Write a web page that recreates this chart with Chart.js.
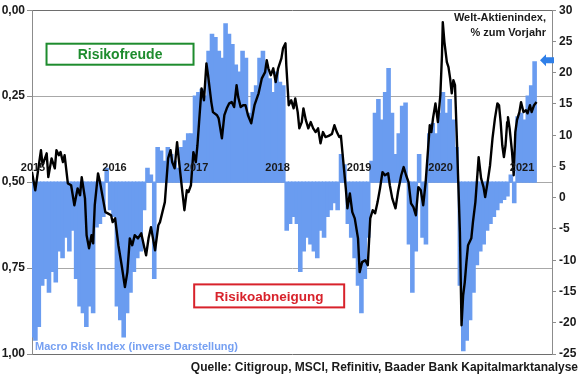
<!DOCTYPE html>
<html>
<head>
<meta charset="utf-8">
<script src="https://cdn.jsdelivr.net/npm/chart.js@4"></script>
<style>
  html, body { margin: 0; padding: 0; background: #fff; }
  #wrap { width: 580px; height: 375px; }
</style>
</head>
<body>
<div id="wrap"><canvas id="chart" width="580" height="375"></canvas></div>
<script>
// Macro Risk Index (left axis, inverted), semi-monthly readings from Jan 2015
const riskStart = 2015;
const macroRisk = [
  0.95, 0.96, 0.92, 0.80, 0.78, 0.82, 0.76, 0.79, 0.70, 0.72,
  0.66, 0.70, 0.64, 0.78, 0.86, 0.88, 0.92, 0.86, 0.88, 0.63,
  0.62, 0.60, 0.46, 0.58, 0.60, 0.86, 0.90, 0.95, 0.88, 0.82,
  0.76, 0.72, 0.70, 0.58, 0.46, 0.48, 0.78, 0.40, 0.41, 0.44,
  0.40, 0.42, 0.44, 0.46, 0.40, 0.38, 0.36, 0.36, 0.25, 0.24,
  0.23, 0.25, 0.12, 0.07, 0.08, 0.12, 0.14, 0.04, 0.07, 0.10,
  0.16, 0.18, 0.12, 0.14, 0.30, 0.24, 0.22, 0.14, 0.12, 0.16,
  0.20, 0.24, 0.18, 0.21, 0.22, 0.64, 0.62, 0.60, 0.62, 0.76,
  0.70, 0.66, 0.68, 0.70, 0.72, 0.64, 0.66, 0.60, 0.58, 0.56,
  0.58, 0.42, 0.45, 0.62, 0.66, 0.72, 0.80, 0.88, 0.78, 0.66,
  0.44, 0.30, 0.26, 0.32, 0.24, 0.17, 0.30, 0.42, 0.36, 0.28,
  0.27, 0.68, 0.82, 0.70, 0.42, 0.66, 0.68, 0.36, 0.33, 0.36,
  0.30, 0.24, 0.30, 0.26, 0.32, 0.40, 0.80, 0.99, 0.96, 0.90,
  0.82, 0.74, 0.70, 0.68, 0.64, 0.62, 0.60, 0.58, 0.56, 0.55,
  0.54, 0.48, 0.56, 0.31, 0.30, 0.32, 0.25, 0.22, 0.15
];
const riskDates = macroRisk.map((v, i) => riskStart + i / 24);

// Welt-Aktienindex, % zum Vorjahr (right axis)
const worldDates = [
  2015.00, 2015.04, 2015.11, 2015.13, 2015.18, 2015.20, 2015.24, 2015.28, 2015.30, 2015.33,
  2015.35, 2015.38, 2015.40, 2015.44, 2015.48, 2015.52, 2015.56, 2015.59, 2015.61, 2015.65,
  2015.67, 2015.70, 2015.73, 2015.75, 2015.77, 2015.81, 2015.83, 2015.87, 2015.90, 2015.93,
  2015.97, 2015.99, 2016.02, 2016.06, 2016.10, 2016.14, 2016.17, 2016.20, 2016.23, 2016.26,
  2016.30, 2016.34, 2016.38, 2016.40, 2016.43, 2016.46, 2016.51, 2016.55, 2016.57, 2016.60,
  2016.63, 2016.67, 2016.70, 2016.72, 2016.75, 2016.78, 2016.80, 2016.84, 2016.87, 2016.90,
  2016.92, 2016.95, 2016.98, 2017.01, 2017.03, 2017.05, 2017.08, 2017.11, 2017.14, 2017.16,
  2017.20, 2017.22, 2017.27, 2017.29, 2017.33, 2017.36, 2017.39, 2017.42, 2017.45, 2017.48,
  2017.51, 2017.53, 2017.56, 2017.59, 2017.62, 2017.65, 2017.69, 2017.73, 2017.78, 2017.82,
  2017.86, 2017.88, 2017.90, 2017.93, 2017.96, 2017.99, 2018.02, 2018.06, 2018.08, 2018.11,
  2018.12, 2018.15, 2018.18, 2018.21, 2018.23, 2018.26, 2018.28, 2018.31, 2018.33, 2018.36,
  2018.39, 2018.42, 2018.45, 2018.48, 2018.51, 2018.54, 2018.57, 2018.60, 2018.64, 2018.68,
  2018.71, 2018.74, 2018.77, 2018.79, 2018.82, 2018.85, 2018.87, 2018.90, 2018.93, 2018.96,
  2019.00, 2019.02, 2019.05, 2019.09, 2019.12, 2019.15, 2019.18, 2019.21, 2019.24, 2019.27,
  2019.30, 2019.33, 2019.37, 2019.39, 2019.42, 2019.46, 2019.49, 2019.53, 2019.56, 2019.59,
  2019.62, 2019.65, 2019.68, 2019.71, 2019.74, 2019.77, 2019.80, 2019.83, 2019.86, 2019.88,
  2019.90, 2019.92, 2019.95, 2019.98, 2020.01, 2020.03, 2020.04, 2020.06, 2020.09, 2020.11,
  2020.13, 2020.15, 2020.17, 2020.19, 2020.21, 2020.23, 2020.25, 2020.27, 2020.29, 2020.31,
  2020.33, 2020.35, 2020.39, 2020.41, 2020.44, 2020.47, 2020.48, 2020.51, 2020.54, 2020.56,
  2020.59, 2020.62, 2020.65, 2020.68, 2020.71, 2020.73, 2020.75, 2020.77, 2020.79, 2020.81,
  2020.83, 2020.84, 2020.86, 2020.89, 2020.91, 2020.93, 2020.95, 2020.98, 2021.00, 2021.03,
  2021.06, 2021.08, 2021.11, 2021.13, 2021.16, 2021.19
];
const worldIndex = [
  4.1, 1.2, 7.6, 5.2, 7.1, 3.3, 6.3, 4.7, 7.6, 6.8,
  7.3, 5.7, 6.8, 2.3, 2.0, -1.2, 1.5, 0.4, 3.3, -0.1,
  -6.0, -8.1, -6.0, -7.3, -1.2, 3.9, 2.8, -0.1, -2.3, -2.5,
  -2.8, -3.9, -3.3, -7.6, -10.8, -14.3, -11.9, -6.5, -7.6, -6.0,
  -6.5, -5.7, -8.1, -9.2, -6.5, -4.7, -8.4, -4.4, -3.9, -2.3,
  -0.7, 6.3, 7.6, 5.7, 4.7, 8.9, 6.3, 1.5, -2.0, 1.2,
  0.9, 2.0, 7.3, 5.7, 8.4, 12.1, 17.5, 15.6, 21.5, 19.6,
  15.3, 13.7, 13.2, 12.7, 9.5, 13.2, 14.3, 15.1, 15.3, 14.5,
  18.0, 16.1, 14.5, 14.8, 14.8, 13.2, 11.9, 14.8, 16.7, 19.1,
  20.1, 22.0, 20.7, 19.6, 20.7, 18.5, 20.7, 22.3, 23.9, 24.7,
  21.2, 14.8, 15.6, 14.3, 15.9, 13.7, 11.1, 12.1, 14.3, 12.4,
  11.1, 12.1, 11.1, 10.5, 11.1, 8.7, 10.5, 9.7, 9.9, 10.2,
  11.6, 10.5, 9.7, 9.9, 5.7, 1.5, -1.7, 0.7, -2.3, -3.3,
  -6.5, -11.9, -10.3, -10.0, -10.8, -3.3, -2.0, -2.5, -0.7, 1.5,
  4.1, 3.6, 3.9, 2.0, -0.1, -1.7, 0.9, 3.6, 4.9, 3.6,
  2.5, -0.9, -1.5, -2.8, 1.7, 1.2, -1.2, 2.5, 7.9, 11.6,
  10.5, 12.7, 15.1, 12.1, 16.4, 22.8, 28.1, 24.9, 21.7, 20.9,
  19.1, 16.7, 18.8, 18.0, 10.5, 2.5, -5.5, -20.4, -15.6, -13.5,
  -10.3, -7.6, -6.5, -3.9, -0.7, 4.7, 6.5, 3.1, 1.7, 0.1,
  2.5, 5.2, 9.5, 12.7, 15.1, 14.8, 12.1, 8.4, 6.5, 8.4,
  12.1, 12.9, 11.1, 7.3, 3.6, 10.5, 12.4, 13.7, 15.3, 13.7,
  14.0, 13.5, 14.8, 13.7, 14.8, 15.3
];

const yearLabels = ['2015', '2016', '2017', '2018', '2019', '2020', '2021'];
const latestMarker = 22; // Pfeil an der rechten Achse

const FONT = '"Liberation Sans", Arial, sans-serif';

// text, boxes and arrow on top of the data
const notes = {
  id: 'notes',
  afterDatasetsDraw(chart) {
    const {ctx, chartArea, scales} = chart;
    const x = scales.x, y = scales.y, y1 = scales.y1;
    ctx.save();

    // year labels just above the 0,50 line
    ctx.font = 'bold 11px ' + FONT;
    ctx.fillStyle = '#1a1a1a';
    ctx.textAlign = 'center';
    ctx.textBaseline = 'middle';
    yearLabels.forEach(yr => {
      ctx.fillText(yr, x.getPixelForValue(+yr) + 1, y.getPixelForValue(0.5) - 14);
    });

    // boxes
    function box(text, cx, cy, w, h, color, size) {
      ctx.fillStyle = '#fff';
      ctx.fillRect(cx - w / 2, cy - h / 2, w, h);
      ctx.lineWidth = 2;
      ctx.strokeStyle = color;
      ctx.strokeRect(cx - w / 2, cy - h / 2, w, h);
      ctx.fillStyle = color;
      ctx.font = 'bold ' + size + 'px ' + FONT;
      ctx.fillText(text, cx, cy + 1);
    }
    box('Risikofreude', x.getPixelForValue(2016.08), y.getPixelForValue(0.128), 147, 21, '#1e8c2e', 14);
    box('Risikoabneigung', x.getPixelForValue(2017.91), y.getPixelForValue(0.831), 150, 23, '#d8222b', 13.5);

    // right axis title
    ctx.fillStyle = '#1a1a1a';
    ctx.font = 'bold 11px ' + FONT;
    ctx.textAlign = 'right';
    ctx.fillText('Welt-Aktienindex,', chartArea.right - 6, 18);
    ctx.fillText('% zum Vorjahr', chartArea.right - 6, 33);

    // left series name
    ctx.textAlign = 'left';
    ctx.fillStyle = '#76a0f2';
    ctx.fillText('Macro Risk Index (inverse Darstellung)', chartArea.left + 3, chartArea.bottom - 7);

    // source
    ctx.textAlign = 'right';
    ctx.fillStyle = '#1a1a1a';
    ctx.font = 'bold 12px ' + FONT;
    ctx.fillText('Quelle: Citigroup, MSCI, Refinitiv, Baader Bank Kapitalmarktanalyse', 578, chartArea.bottom + 14);

    // blue arrow pointing at the latest value
    const ay = y1.getPixelForValue(latestMarker);
    const ax = chartArea.right - 12;
    ctx.fillStyle = '#2f7fe8';
    ctx.beginPath();
    ctx.moveTo(ax, ay);
    ctx.lineTo(ax + 6, ay - 6);
    ctx.lineTo(ax + 6, ay - 3);
    ctx.lineTo(ax + 14, ay - 3);
    ctx.lineTo(ax + 14, ay + 3);
    ctx.lineTo(ax + 6, ay + 3);
    ctx.lineTo(ax + 6, ay + 6);
    ctx.closePath();
    ctx.fill();

    ctx.restore();
  }
};

new Chart(document.getElementById('chart'), {
  type: 'bar',
  data: {
    datasets: [{
      type: 'line',
      label: 'Welt-Aktienindex, % zum Vorjahr',
      data: worldDates.map((t, i) => ({x: t, y: worldIndex[i]})),
      yAxisID: 'y1',
      borderColor: '#000',
      borderWidth: 2.4,
      pointRadius: 0,
      tension: 0,
      borderJoinStyle: 'round',
      order: 0
    }, {
      label: 'Macro Risk Index (inverse Darstellung)',
      data: macroRisk.map((v, i) => ({x: riskDates[i], y: [0.5, v]})),
      yAxisID: 'y',
      backgroundColor: '#6a9cf0',
      borderWidth: 0,
      inflateAmount: 0.6,
      barPercentage: 1,
      categoryPercentage: 1,
      grouped: false,
      order: 1
    }]
  },
  options: {
    responsive: false,
    animation: false,
    devicePixelRatio: 1,
    layout: {
      padding: {left: 0, right: 0, top: 10, bottom: 21}
    },
    plugins: {
      legend: {display: false},
      tooltip: {enabled: false}
    },
    scales: {
      x: {
        type: 'linear',
        display: false,
        offset: false,
        min: 2015,
        max: 2021.38
      },
      y: {
        position: 'left',
        reverse: true,
        min: 0,
        max: 1,
        afterFit(scale) { scale.width = 32; },
        ticks: {
          stepSize: 0.25,
          padding: 2,
          color: '#1a1a1a',
          font: {family: FONT, size: 12, weight: 'bold'},
          callback: v => v.toFixed(2).replace('.', ',')
        },
        grid: {
          color: c => (c.tick.value === 0 || c.tick.value === 1) ? '#6e6e6e' : '#a8a8a8',
          tickColor: '#8c8c8c',
          tickLength: 5,
          lineWidth: 1
        },
        border: {display: true, color: '#8c8c8c'}
      },
      y1: {
        position: 'right',
        min: -25,
        max: 30,
        afterFit(scale) { scale.width = 28; },
        ticks: {
          stepSize: 5,
          padding: 3,
          color: '#1a1a1a',
          font: {family: FONT, size: 12, weight: 'bold'}
        },
        grid: {
          drawOnChartArea: false,
          tickColor: '#8c8c8c',
          tickLength: 4
        },
        border: {display: true, color: '#8c8c8c'}
      }
    }
  },
  plugins: [notes]
});
</script>
</body>
</html>
